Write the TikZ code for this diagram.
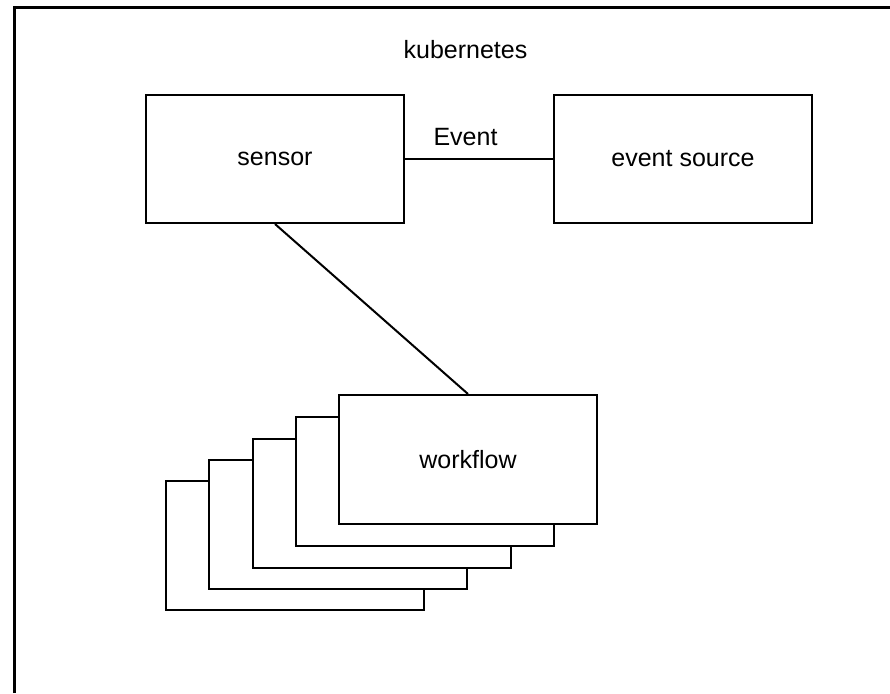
\documentclass[tikz,border=0pt]{standalone}
\usepackage{fontspec}
\setmainfont{Liberation Sans}
\begin{document}
\begin{tikzpicture}[x=1pt,y=-1pt,
  every node/.style={font=\fontsize{25}{30}\selectfont},
  box/.style={draw=black, line width=2pt, fill=white, anchor=north west,
    minimum width=258pt, minimum height=128pt, inner sep=0pt},
  stackbox/.style={box, minimum height=129pt},
  wire/.style={draw=black, line width=2pt},
  plain/.style={inner sep=0pt}]
  \useasboundingbox (0,0) rectangle (890,693);
  \fill[white] (0,0) rectangle (890,693);
  % cluster frame (open to the right and bottom)
  \draw[line width=3pt] (14,693) -- (14,8) -- (890,8);
  \node[plain] (k8s) at (465.5,50) {kubernetes};

  % sensor and event source
  \node[box] (sensor) at (145,94) {};
  \node at (sensor.center) {sensor};
  \node[box] (evsrc) at (553,94) {};
  \node at (evsrc.center) {event source};
  \draw[wire] (sensor.east) -- (evsrc.west);
  \node[plain] (evlbl) at (465.5,137) {Event};

  % stacked workflow instances, back to front
  \node[stackbox] (wf1) at (165,480) {};
  \node[stackbox] (wf2) at (208.25,458.75) {};
  \node[stackbox] (wf3) at (251.5,437.5) {};
  \node[stackbox] (wf4) at (294.75,416.25) {};
  \node[stackbox] (wf5) at (338,394) {};
  \node at (wf5.center) {workflow};

  \draw[wire] (sensor.south) -- (wf5.north);
\end{tikzpicture}
\end{document}
